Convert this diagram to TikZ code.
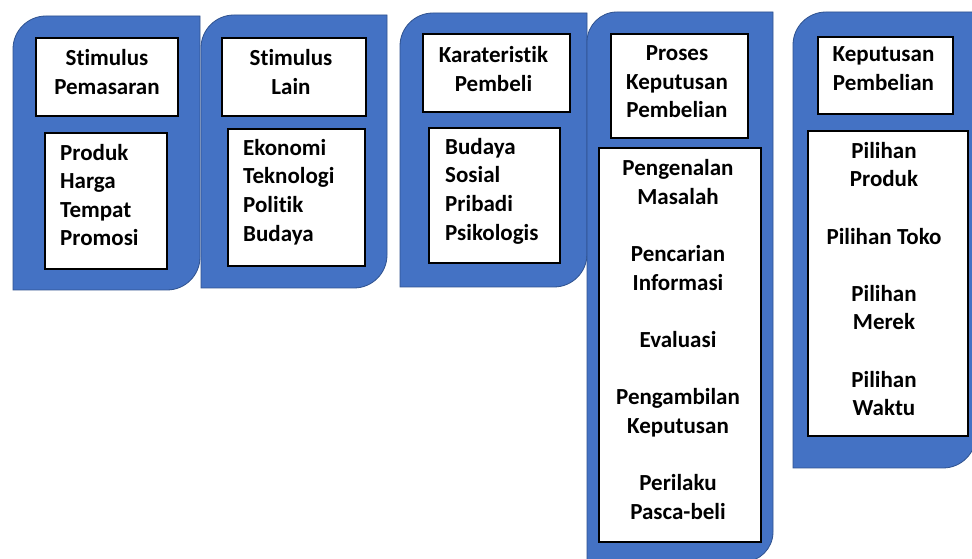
\documentclass[tikz,border=0pt]{standalone}
\usepackage{fontspec}
\setmainfont{Carlito}[Ligatures=NoCommon]
\definecolor{blueA}{HTML}{4472C4}
\definecolor{blueB}{HTML}{2F528F}
\newcommand\diagpanel[5]{\path[panel] (#1,#4) -- (#1,#2-#5) arc[start angle=180,end angle=90,radius=#5] -- (#3,#2) -- (#3,#4+#5) arc[start angle=0,end angle=-90,radius=#5] -- cycle;}
\begin{document}
\begin{tikzpicture}[x=1pt,y=1pt,
  panel/.style={fill=blueA, draw=blueB, line width=0.8pt},
  wbox/.style={draw=black, fill=white, line width=1.2pt, inner sep=0pt},
  txt/.style={font=\fontsize{23}{28.6}\selectfont\bfseries, inner sep=0pt, align=center},
  ltxt/.style={txt, align=left, anchor=west}]
\useasboundingbox (0,0) rectangle (972,559);
\fill[white] (0,0) rectangle (972,559);
\begin{scope}
  \clip (0,0) rectangle (972,559);
  \diagpanel{13}{543}{200}{269}{33}
  \diagpanel{201}{544}{387}{271}{33}
  \diagpanel{400}{546}{587}{272}{33}
  \diagpanel{587}{547}{773}{-3}{30}
  \diagpanel{793}{547}{976}{91}{33}
\end{scope}
% column 1
\node[wbox, minimum width=142pt, minimum height=78pt] (t1) at (107,482) {};
\node[txt] (t1x) at ([yshift=5pt]t1.center) {Stimulus\\Pemasaran};
\node[wbox, minimum width=122pt, minimum height=136pt] (c1) at (106,358) {};
\node[ltxt] (c1x) at (60,364) {Produk\\Harga\\Tempat\\Promosi};
% column 2
\node[wbox, minimum width=144pt, minimum height=78pt] (t2) at (294,482) {};
\node[txt] (t2x) at ([xshift=-3pt,yshift=5pt]t2.center) {Stimulus\\Lain};
\node[wbox, minimum width=137pt, minimum height=137pt] (c2) at (296.5,361.5) {};
\node[ltxt] (c2x) at (243,367) {Ekonomi\\Teknologi\\Politik\\Budaya};
% column 3
\node[wbox, minimum width=147pt, minimum height=78pt] (t3) at (496.5,486) {};
\node[txt] (t3x) at ([xshift=-3pt,yshift=4pt]t3.center) {Karateristik\\Pembeli};
\node[wbox, minimum width=131pt, minimum height=135pt] (c3) at (494.5,363.5) {};
\node[ltxt] (c3x) at (445,368) {Budaya\\Sosial\\Pribadi\\Psikologis};
% column 4
\node[wbox, minimum width=137pt, minimum height=104pt] (t4) at (679.5,473) {};
\node[txt] (t4x) at ([xshift=-2.5pt,yshift=4pt]t4.center) {Proses\\Keputusan\\Pembelian};
\node[wbox, minimum width=162pt, minimum height=394pt] (c4) at (680,214) {};
\node[txt] (c4x) at (678,219.5) {Pengenalan\\Masalah\\[28.6pt]Pencarian\\Informasi\\[28.6pt]Evaluasi\\[28.6pt]Pengambilan\\Keputusan\\[28.6pt]Perilaku\\Pasca-beli};
% column 5
\node[wbox, minimum width=135pt, minimum height=77pt] (t5) at (885.5,483.5) {};
\node[txt] (t5x) at ([xshift=-2pt,yshift=7pt]t5.center) {Keputusan\\Pembelian};
\node[wbox, minimum width=160pt, minimum height=305pt] (c5) at (888,275.5) {};
\node[txt] (c5x) at (884,280) {Pilihan\\Produk\\[28.6pt]Pilihan Toko\\[28.6pt]Pilihan\\Merek\\[28.6pt]Pilihan\\Waktu};
\end{tikzpicture}
\end{document}
